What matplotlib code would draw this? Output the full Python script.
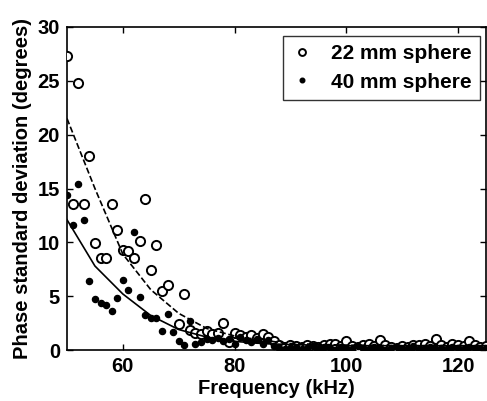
import matplotlib
matplotlib.use("Agg")
from matplotlib import pyplot as plt

# 22 mm sphere (open circles)
freq_22 = [50, 51, 52, 53, 54, 55, 56, 57, 58, 59, 60, 61, 62, 63, 64, 65, 66, 67, 68,
           70, 71, 72, 73, 74, 75, 76, 77, 78, 79, 80, 81, 82, 83, 84, 85, 86, 87, 88, 89,
           90, 91, 92, 93, 94, 95, 96, 97, 98, 99, 100, 101, 102, 103, 104, 105, 106, 107,
           108, 109, 110, 111, 112, 113, 114, 115, 116, 117, 118, 119, 120, 121, 122, 123,
           124, 125]
std_22 = [27.3, 13.6, 24.8, 13.6, 18.0, 9.9, 8.5, 8.5, 13.6, 11.1, 9.3, 9.2, 8.5, 10.1,
          14.0, 7.4, 9.75, 5.5, 6.0,
          2.4, 5.2, 1.9, 1.55, 1.5, 1.8, 1.5, 1.6, 2.5, 0.7, 1.6, 1.4, 1.2, 1.4, 1.1, 1.5,
          1.2, 0.8, 0.5, 0.3, 0.5, 0.4, 0.3, 0.5, 0.4, 0.3, 0.5, 0.6, 0.6, 0.4, 0.8, 0.4,
          0.3, 0.5, 0.6, 0.4, 0.9, 0.5, 0.3, 0.2, 0.4, 0.3, 0.5, 0.5, 0.6, 0.4, 1.0, 0.5,
          0.3, 0.6, 0.5, 0.4, 0.85, 0.5, 0.3, 0.4]

# 40 mm sphere (filled dots)
freq_40 = list(range(50, 126))
std_40 = [14.4, 11.6, 15.4, 12.1, 6.4, 4.7, 4.4, 4.2, 3.6, 4.8, 6.5, 5.6, 11.0, 4.9, 3.25,
          3.0, 3.0, 1.76, 3.3, 1.7, 0.84, 0.5, 2.7, 0.55, 0.7, 1.0, 0.9, 1.1, 0.8, 1.0,
          0.6, 1.2, 0.9, 0.7, 1.0, 0.6, 0.9, 0.4, 0.2, 0.1, 0.2, 0.3, 0.1, 0.2, 0.4, 0.1,
          0.3, 0.2, 0.0, 0.3, 0.2, 0.1, 0.4, 0.2, 0.1, 0.3, 0.2, 0.0, 0.2, 0.3, 0.1, 0.2,
          0.4, 0.1, 0.2, 0.3, 0.0, 0.2, 0.1, 0.3, 0.2, 0.1, 0.3, 0.2, 0.1, 0.2]

# fitted curves
fit_freq = [50, 55, 60, 65, 70, 75, 80, 85, 90, 100, 110, 125]
fit_22 = [21.5, 15.0, 8.9, 5.6, 3.4, 2.0, 1.3, 0.9, 0.6, 0.45, 0.4, 0.4]
fit_40 = [12.1, 7.8, 5.2, 3.2, 1.9, 1.2, 0.8, 0.6, 0.5, 0.4, 0.4, 0.4]

plt.rcParams['font.family'] = ['Liberation Sans', 'DejaVu Sans']
plt.rcParams['font.weight'] = 'bold'
plt.rcParams['font.size'] = 14.5

fig = plt.figure(figsize=(4.87, 4.01), dpi=100)
ax = fig.add_axes([67/487, 51/401, 419/487, 323/401])

ax.plot(freq_22, std_22, 'o', mfc='white', mec='black', ms=6.6, mew=1.4,
        label='22 mm sphere', zorder=3)
ax.plot(freq_40, std_40, 'o', mfc='black', mec='black', ms=4.4,
        label='40 mm sphere', zorder=4)
ax.plot(fit_freq, fit_22, '--', color='black', lw=1.2, zorder=5)
ax.plot(fit_freq, fit_40, '-', color='black', lw=1.2, zorder=5)

ax.set_xlim(50, 125)
ax.set_ylim(0, 30)
ax.set_xticks([60, 80, 100, 120])
ax.set_yticks([0, 5, 10, 15, 20, 25, 30])
ax.tick_params(direction='in', top=True, right=True, length=4, width=1, pad=5)
for s in ax.spines.values():
    s.set_linewidth(1.2)

ax.set_xlabel('Frequency (kHz)', fontweight='bold', labelpad=2)
ax.set_ylabel('Phase standard deviation (degrees)', fontweight='bold', labelpad=4)

leg = ax.legend(loc='upper right', frameon=True, fancybox=False, edgecolor='black',
                handlelength=1.0, handletextpad=0.9, borderpad=0.4, markerscale=0.75,
                labelspacing=0.45, borderaxespad=0.2, bbox_to_anchor=(0.995, 0.985),
                prop={'weight': 'bold', 'size': 15})
leg.get_frame().set_linewidth(1.0)

plt.savefig('out.png', dpi=100)
